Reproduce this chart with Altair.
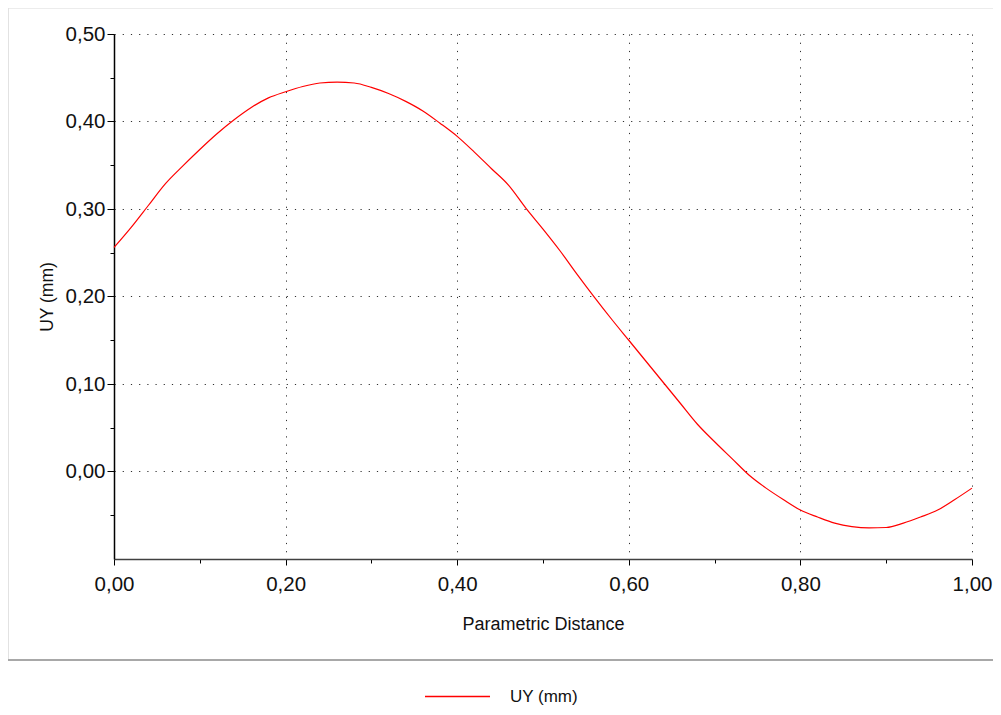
import altair as alt
import pandas as pd

# ---- data ----
series_name = "UY (mm)"
x_title = "Parametric Distance"
y_title = "UY (mm)"

distance = [0.00, 0.02, 0.04, 0.06, 0.08, 0.10, 0.12, 0.14, 0.16, 0.18,
            0.20, 0.22, 0.24, 0.26, 0.28, 0.30, 0.32, 0.34, 0.36, 0.38,
            0.40, 0.42, 0.44, 0.46, 0.48, 0.50, 0.52, 0.54, 0.56, 0.58,
            0.60, 0.62, 0.64, 0.66, 0.68, 0.70, 0.72, 0.74, 0.76, 0.78,
            0.80, 0.82, 0.84, 0.86, 0.88, 0.90, 0.92, 0.94, 0.96, 0.98, 1.00]
uy = [0.256, 0.279, 0.304, 0.329, 0.349, 0.368, 0.386, 0.402, 0.416, 0.427,
      0.434, 0.440, 0.444, 0.445, 0.444, 0.439, 0.432, 0.423, 0.412, 0.398,
      0.383, 0.365, 0.346, 0.327, 0.301, 0.277, 0.252, 0.225, 0.199, 0.174,
      0.150, 0.126, 0.102, 0.078, 0.054, 0.034, 0.015, -0.004, -0.019, -0.032,
      -0.044, -0.052, -0.059, -0.063, -0.0645, -0.064, -0.059, -0.052, -0.044, -0.032, -0.019]

x_domain = [0.0, 1.0]
y_domain = [-0.1, 0.5]
x_major = [0.0, 0.2, 0.4, 0.6, 0.8, 1.0]
x_minor = [0.1, 0.3, 0.5, 0.7, 0.9]
y_major = [0.0, 0.1, 0.2, 0.3, 0.4, 0.5]
y_minor = [-0.05, 0.05, 0.15, 0.25, 0.35, 0.45]

df = pd.DataFrame({"distance": distance, "uy": uy, "series": [series_name] * len(distance)})

FONT = "Liberation Sans"
W, H = 858, 525

x_minor_test = "round(datum.value*10) % 2 != 0"
y_minor_test = "round(datum.value*20) % 2 != 0"
fmt = "replace(format(datum.value, '.2f'), '.', ',')"

x_axis = alt.Axis(
    values=x_major + x_minor,
    title=x_title,
    labelExpr=f"{x_minor_test} ? '' : {fmt}",
    labelFont=FONT, labelFontSize=20.5, labelColor="#111111",
    labelPadding=9, labelFlush=False, labelOverlap=False,
    tickSize={"condition": {"test": x_minor_test, "value": 4}, "value": 6},
    tickColor="#000000", tickWidth=1,
    domainColor="#404040", domainWidth=1.5,
    grid=True, gridDash=[1.2, 7], gridColor="#303030", gridWidth=1,
    gridOpacity={"condition": {"test": x_minor_test, "value": 0}, "value": 1},
    titleFont=FONT, titleFontSize=18, titleFontWeight="normal", titleColor="#111111",
    titleBaseline="alphabetic", titleY=70,
)

y_axis = alt.Axis(
    values=y_major + y_minor,
    title=y_title,
    labelExpr=f"{y_minor_test} ? '' : {fmt}",
    labelFont=FONT, labelFontSize=20.5, labelColor="#111111",
    labelPadding=2, labelFlush=False, labelOverlap=False,
    tickSize={"condition": {"test": y_minor_test, "value": 4}, "value": 7},
    tickColor="#000000", tickWidth=1,
    domainColor="#000000", domainWidth=1.5,
    grid=True, gridDash=[1.2, 7], gridColor="#303030", gridWidth=1,
    gridOpacity={"condition": {"test": y_minor_test, "value": 0}, "value": 1},
    titleFont=FONT, titleFontSize=17.5, titleFontWeight="normal", titleColor="#111111",
    titleBaseline="alphabetic", titleX=-62, titleAngle=-90,
)

line = alt.Chart(df).mark_line(strokeWidth=1.2, interpolate="monotone").encode(
    x=alt.X("distance:Q", scale=alt.Scale(domain=x_domain, nice=False, zero=False), axis=x_axis),
    y=alt.Y("uy:Q", scale=alt.Scale(domain=y_domain, nice=False, zero=False), axis=y_axis),
    color=alt.Color(
        "series:N",
        scale=alt.Scale(domain=[series_name], range=["#ff0000"]),
        legend=alt.Legend(
            title=None, orient="none", legendX=310, legendY=629,
            symbolType="stroke", symbolSize=4225, symbolStrokeWidth=1.5,
            labelFont=FONT, labelFontSize=17, labelColor="#111111",
            labelOffset=19, padding=0,
        ),
    ),
)

one = alt.Data(values=[{}])
frame_bottom = alt.Chart(one).mark_rule(color="#a8a8a8", strokeWidth=2).encode(
    x=alt.value(-106), x2=alt.value(900), y=alt.value(626)
)
frame_left = alt.Chart(one).mark_rule(color="#e2e2e2", strokeWidth=1).encode(
    x=alt.value(-105.5), y=alt.value(-26), y2=alt.value(625)
)
frame_top = alt.Chart(one).mark_rule(color="#ececec", strokeWidth=1).encode(
    x=alt.value(-106), x2=alt.value(900), y=alt.value(-25.5)
)

chart = alt.layer(frame_top, frame_left, frame_bottom, line).properties(
    width=W, height=H,
    autosize=alt.AutoSizeParams(type="none"),
    padding={"left": 106, "top": 26, "right": 21, "bottom": 148},
    background="#ffffff",
).configure_view(stroke="transparent")

chart.save("out.html", embed_options={"renderer": "svg", "actions": False})
